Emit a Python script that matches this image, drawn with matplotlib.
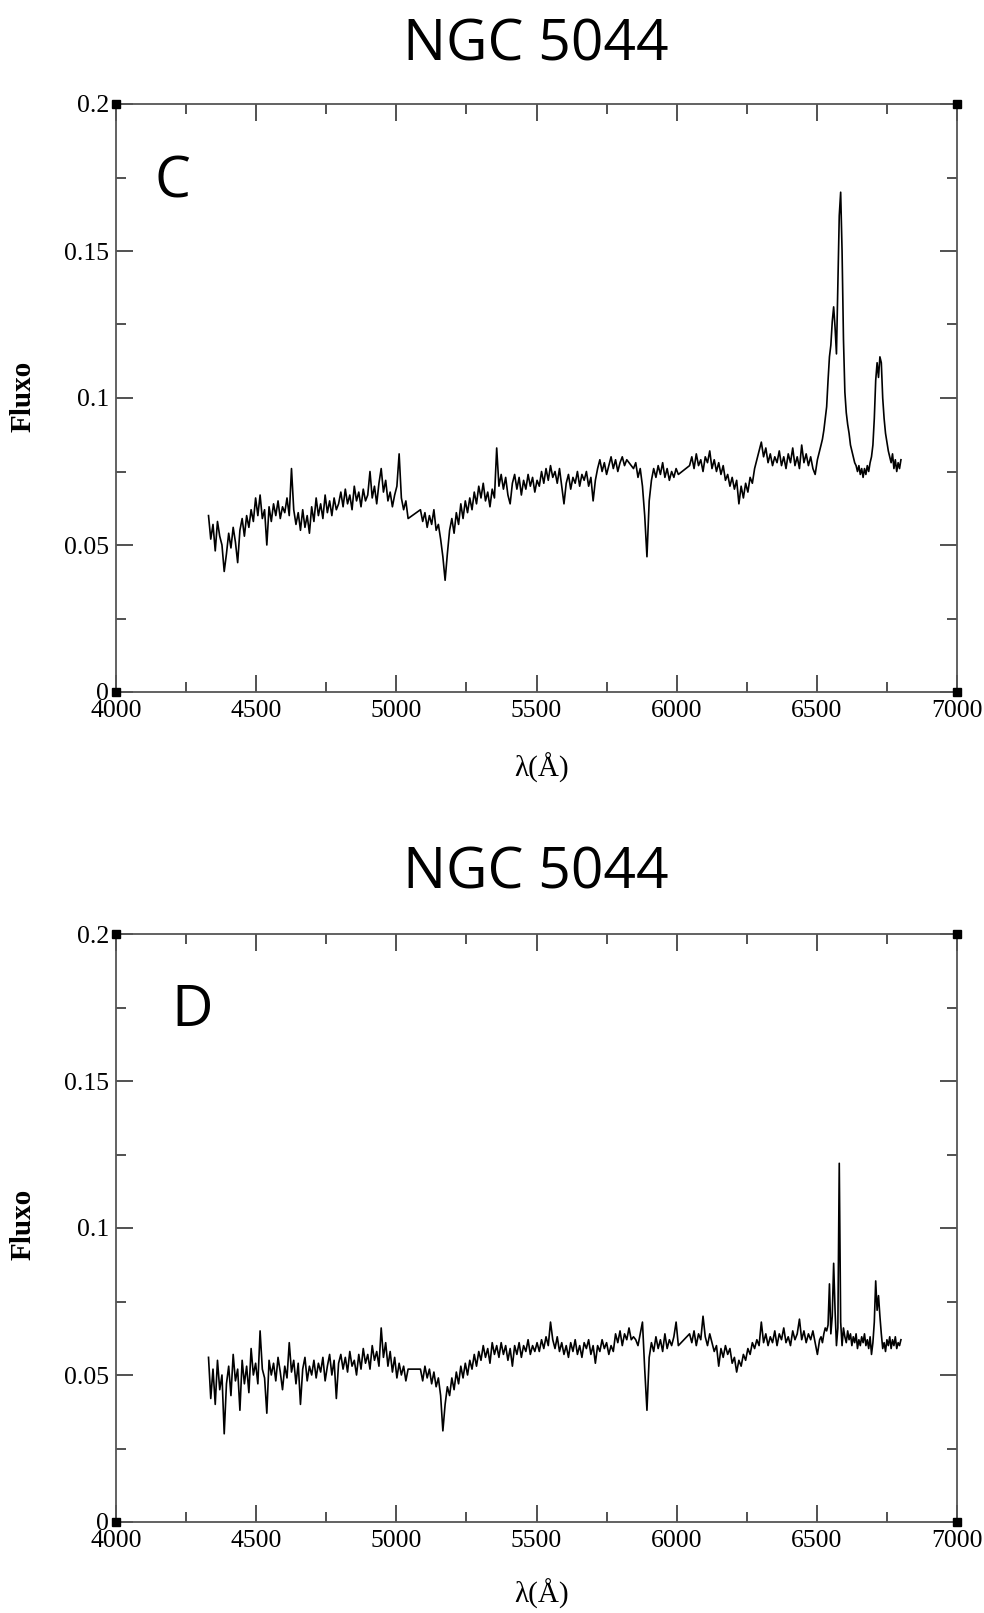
import numpy as np
import matplotlib
matplotlib.use("Agg")
import matplotlib.pyplot as plt
from matplotlib.ticker import MultipleLocator

# ---------------- data (flux in units of 1e-3) ----------------
blue_start, mid_start, red_start, lines_start = 4330, 5086, 6046, 6515
coarse_step, fine_step = 8, 5

c_blue = [60,52,57,48,58,53,50,41,47,54,
          49,56,51,44,55,59,53,60,56,62,
          58,66,60,67,59,62,50,63,58,64,
          60,65,59,63,61,66,60,76,62,57,
          61,55,62,56,60,54,63,58,66,60,
          64,59,67,61,65,60,66,62,64,68,
          63,69,64,67,62,70,65,68,63,69,
          65,67,75,66,70,64,71,76,68,72,
          65,68,63,67,70,81,66,62,65,59]
c_mid = [62,58,61,56,60,57,62,55,57,52,
         46,38,47,55,59,54,61,57,64,59,
         65,61,66,62,68,64,70,66,71,65,
         68,63,69,66,83,70,74,69,73,67,
         64,71,74,69,73,67,72,69,74,70,
         73,68,72,70,75,71,76,72,77,73,
         75,71,76,70,64,71,74,69,73,71,
         75,70,74,72,75,70,73,65,72,76,
         79,75,78,74,77,80,76,79,75,78,
         80,77,79,78,77,76,78,73,76,70,
         60,46,65,72,76,73,77,74,78,73,
         76,72,75,73,76,74]
c_red = [77,80,76,81,77,79,75,80,78,82,
         76,79,75,78,74,77,72,74,70,73,
         69,72,64,70,66,71,68,73,71,76,
         79,82,85,80,83,78,81,77,80,78,
         82,77,80,76,81,78,83,77,80,76,
         84,78,81,77,80,76,74,79,82]
c_lines = [84,86,89,93,97,106,114,118,126,131,
           124,115,138,162,170,150,120,102,95,91,
           88,84,82,80,78,77,75,77,74,76,
           73,76,74,77,75,78,80,84,93,106,
           112,107,114,112,100,93,88,85,82,80,
           78,81,76,79,75,78,76,79]

d_blue = [56,42,52,40,55,45,50,30,47,53,
          43,57,48,52,38,55,47,53,44,59,
          50,54,47,65,52,49,37,55,50,54,
          48,56,51,45,53,49,61,51,55,47,
          54,40,52,56,48,53,50,55,49,54,
          51,56,48,53,57,50,55,42,54,57,
          52,56,51,58,53,55,50,57,52,59,
          54,57,52,60,55,58,53,66,56,61,
          53,58,51,56,49,54,50,53,48,52]
d_mid = [52,48,53,49,52,47,51,46,49,43,
         31,40,46,43,49,45,51,47,53,49,
         54,50,55,52,57,53,58,55,60,56,
         59,54,61,57,60,56,61,57,60,55,
         59,53,60,57,61,56,60,58,62,57,
         60,58,61,58,62,59,63,60,68,62,
         59,63,58,61,57,60,56,61,58,62,
         57,60,56,61,59,62,57,60,54,60,
         58,62,59,61,57,60,58,64,61,65,
         60,64,62,66,62,63,62,60,64,68,
         52,38,56,61,58,63,59,62,58,64,
         59,62,60,63,68,60]
d_red = [64,61,65,60,64,62,70,63,60,64,
         61,58,60,53,59,56,60,57,59,54,
         56,51,55,53,57,55,59,57,61,59,
         62,60,68,61,64,60,63,61,65,60,
         64,62,66,61,63,60,65,62,64,69,
         62,65,61,64,62,65,61,57,62]
d_lines = [63,61,64,66,65,67,81,64,70,88,
           72,60,66,122,68,60,66,63,61,65,
           62,64,60,63,61,64,59,62,60,63,
           61,64,60,62,59,63,57,61,68,82,
           72,77,70,64,59,61,58,62,60,63,
           59,62,60,63,59,61,60,62]

x_ticks = [4000, 4500, 5000, 5500, 6000, 6500, 7000]
x_tick_labels = ["4000", "4500", "5000", "5500", "6000", "6500", "7000"]
y_ticks = [0, 0.05, 0.1, 0.15, 0.2]
y_tick_labels = ["0", "0.05", "0.1", "0.15", "0.2"]
panel_titles = ["NGC 5044", "NGC 5044"]
panel_letters = ["C", "D"]
y_label = "Fluxo"
x_label = "λ(Å)"


def spectrum(blue, mid, red, lines):
    parts = [(blue_start, coarse_step, blue), (mid_start, coarse_step, mid),
             (red_start, coarse_step, red), (lines_start, fine_step, lines)]
    wl = np.concatenate([s + st * np.arange(len(v)) for s, st, v in parts])
    fl = np.concatenate([np.asarray(v, float) / 1000.0 for _, _, v in parts])
    return wl, fl


spectra = [spectrum(c_blue, c_mid, c_red, c_lines),
           spectrum(d_blue, d_mid, d_red, d_lines)]

# ---------------- figure ----------------
W, H = 984, 1613
fig = plt.figure(figsize=(W / 100, H / 100), dpi=100)

serif = "Liberation Serif"
sans = "Open Sans"

panels = [
    dict(top=104, bottom=692, title_y=46, ylab_y=396, xlab_y=768, letter_xy=(4200, 0.1731)),
    dict(top=934, bottom=1522, title_y=874, ylab_y=1224, xlab_y=1594, letter_xy=(4272, 0.1738)),
]
left_px, right_px = 116, 957

for i, p in enumerate(panels):
    ax = fig.add_axes([left_px / W, 1 - p["bottom"] / H,
                       (right_px - left_px) / W, (p["bottom"] - p["top"]) / H])
    wl, fl = spectra[i]
    ax.plot(wl, fl, color="black", lw=1.2)
    ax.set_xlim(4000, 7000)
    ax.set_ylim(0, 0.2)
    ax.set_xticks(x_ticks)
    ax.set_xticklabels(x_tick_labels, fontfamily=serif, fontsize=18.5)
    ax.set_yticks(y_ticks)
    ax.set_yticklabels(y_tick_labels, fontfamily=serif, fontsize=18.5)
    ax.xaxis.set_minor_locator(MultipleLocator(250))
    ax.yaxis.set_minor_locator(MultipleLocator(0.025))
    ax.tick_params(which="both", direction="in", top=True, right=True,
                   labeltop=False, labelright=False, color="#222222")
    ax.tick_params(which="major", length=12, width=1.1)
    ax.tick_params(axis="x", which="major", pad=5.5)
    ax.tick_params(axis="y", which="major", pad=5)
    ax.tick_params(which="minor", length=7, width=1.1)
    for sp in ax.spines.values():
        sp.set_color("#555555")
        sp.set_linewidth(1.3)
    # corner squares
    ax.plot([0, 1, 0, 1], [0, 0, 1, 1], "s", ms=6, color="black",
            transform=ax.transAxes, clip_on=False, zorder=6)
    ax.text(p["letter_xy"][0], p["letter_xy"][1], panel_letters[i],
            fontsize=41, family=sans, ha="center", va="center")

    fig.text(536 / W, 1 - p["title_y"] / H, panel_titles[i], fontsize=41,
             family=sans, ha="center", va="center")
    fig.text(23 / W, 1 - p["ylab_y"] / H, y_label, fontsize=21, family=serif,
             fontweight="bold", rotation=90, ha="center", va="center")
    fig.text(542 / W, 1 - p["xlab_y"] / H, x_label, fontsize=21, family=serif,
             ha="center", va="center")

fig.savefig("out.png", dpi=100, facecolor="white")
